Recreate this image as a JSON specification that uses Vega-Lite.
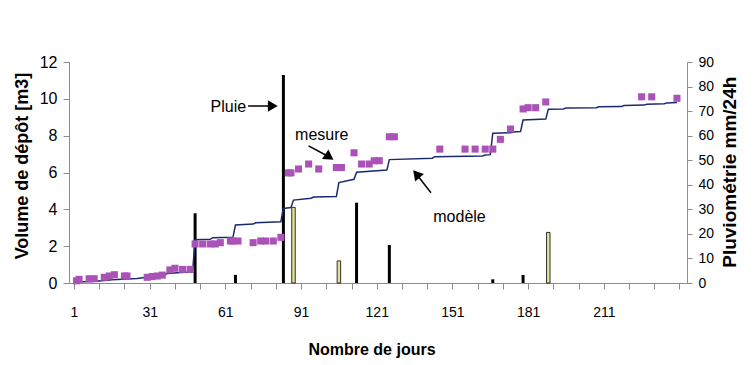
{
  "$schema": "https://vega.github.io/schema/vega-lite/v6.json",
  "width": 618,
  "height": 221,
  "autosize": {"type": "none"},
  "padding": {"left": 69, "top": 62, "right": 68, "bottom": 82},
  "background": "white",
  "config": {
    "view": {"stroke": null},
    "axis": {"grid": false, "labelOverlap": false, "tickCount": 100, "format": "d", "domainColor": "#8c8c8c", "tickColor": "#8c8c8c", "labelColor": "#000000", "titleColor": "#000000", "labelFont": "Liberation Sans", "titleFont": "Liberation Sans"}
  },
  "datasets": {
    "rain": [
      {"day": 49, "mm": 28.4, "s": "noir"},
      {"day": 65, "mm": 3.3, "s": "noir"},
      {"day": 84, "mm": 84.7, "s": "noir"},
      {"day": 113, "mm": 32.7, "s": "noir"},
      {"day": 126, "mm": 15.5, "s": "noir"},
      {"day": 167, "mm": 1.5, "s": "noir"},
      {"day": 179, "mm": 3.3, "s": "noir"},
      {"day": 88, "mm": 30.8, "s": "jaune"},
      {"day": 106, "mm": 9, "s": "jaune"},
      {"day": 189, "mm": 20.6, "s": "jaune"}
    ],
    "modele": [
      {"day": 1, "v": 0.05}, {"day": 8, "v": 0.08}, {"day": 12, "v": 0.12}, {"day": 16, "v": 0.17},
      {"day": 22, "v": 0.22}, {"day": 26, "v": 0.25}, {"day": 29, "v": 0.3}, {"day": 33, "v": 0.38},
      {"day": 37, "v": 0.45}, {"day": 38, "v": 0.52}, {"day": 42, "v": 0.56}, {"day": 45, "v": 0.58},
      {"day": 48, "v": 0.6}, {"day": 49, "v": 2.35}, {"day": 55, "v": 2.37}, {"day": 56, "v": 2.46},
      {"day": 64, "v": 2.48}, {"day": 65, "v": 3.15}, {"day": 72, "v": 3.2}, {"day": 73, "v": 3.27},
      {"day": 83, "v": 3.33}, {"day": 84, "v": 4.05}, {"day": 87, "v": 4.1}, {"day": 88, "v": 4.5},
      {"day": 95, "v": 4.6}, {"day": 96, "v": 4.67}, {"day": 105, "v": 4.7}, {"day": 106, "v": 5.45},
      {"day": 112, "v": 5.63}, {"day": 113, "v": 6.02}, {"day": 125, "v": 6.13}, {"day": 126, "v": 6.7},
      {"day": 143, "v": 6.78}, {"day": 144, "v": 6.86}, {"day": 163, "v": 6.9}, {"day": 164, "v": 6.95},
      {"day": 166, "v": 6.97}, {"day": 167, "v": 8.13}, {"day": 174, "v": 8.16}, {"day": 175, "v": 8.2},
      {"day": 178, "v": 8.22}, {"day": 179, "v": 8.85}, {"day": 188, "v": 8.9}, {"day": 189, "v": 9.43},
      {"day": 195, "v": 9.45}, {"day": 196, "v": 9.5}, {"day": 208, "v": 9.52}, {"day": 209, "v": 9.57},
      {"day": 218, "v": 9.58}, {"day": 219, "v": 9.64}, {"day": 227, "v": 9.66}, {"day": 228, "v": 9.71},
      {"day": 235, "v": 9.73}, {"day": 236, "v": 9.78}, {"day": 240, "v": 9.8}
    ],
    "mesure": [
      {"day": 2, "v": 0.12}, {"day": 3, "v": 0.2}, {"day": 7, "v": 0.23}, {"day": 9, "v": 0.23},
      {"day": 13, "v": 0.31}, {"day": 15, "v": 0.38}, {"day": 17, "v": 0.45}, {"day": 21, "v": 0.38},
      {"day": 22, "v": 0.38}, {"day": 30, "v": 0.31}, {"day": 32, "v": 0.35}, {"day": 34, "v": 0.38},
      {"day": 36, "v": 0.43}, {"day": 39, "v": 0.71}, {"day": 41, "v": 0.8}, {"day": 44, "v": 0.74},
      {"day": 47, "v": 0.74},
      {"day": 49, "v": 2.12}, {"day": 52, "v": 2.12}, {"day": 55, "v": 2.12}, {"day": 57, "v": 2.12},
      {"day": 59, "v": 2.19}, {"day": 63, "v": 2.28}, {"day": 64, "v": 2.28}, {"day": 66, "v": 2.28},
      {"day": 72, "v": 2.19}, {"day": 75, "v": 2.28}, {"day": 77, "v": 2.28}, {"day": 80, "v": 2.28},
      {"day": 83, "v": 2.48},
      {"day": 86, "v": 5.98}, {"day": 87, "v": 5.98}, {"day": 90, "v": 6.19}, {"day": 94, "v": 6.46},
      {"day": 98, "v": 6.19}, {"day": 105, "v": 6.27}, {"day": 107, "v": 6.27}, {"day": 112, "v": 7.07},
      {"day": 115, "v": 6.46}, {"day": 118, "v": 6.46}, {"day": 120, "v": 6.64}, {"day": 122, "v": 6.64},
      {"day": 126, "v": 7.94}, {"day": 128, "v": 7.94},
      {"day": 146, "v": 7.27}, {"day": 156, "v": 7.27}, {"day": 160, "v": 7.27}, {"day": 164, "v": 7.27},
      {"day": 167, "v": 7.27}, {"day": 170, "v": 7.8}, {"day": 174, "v": 8.36}, {"day": 179, "v": 9.45},
      {"day": 181, "v": 9.52}, {"day": 184, "v": 9.52}, {"day": 188, "v": 9.83},
      {"day": 226, "v": 10.11}, {"day": 230, "v": 10.11}, {"day": 240, "v": 10.03}
    ],
    "notes": [
      {"day": 62.2, "v": 9.55, "t": "Pluie"},
      {"day": 99.2, "v": 8.03, "t": "mesure"},
      {"day": 153.8, "v": 3.6, "t": "modèle"}
    ],
    "arrows": [
      {"name": "Pluie", "day": 70, "v": 9.61, "day2": 79.8, "v2": 9.61},
      {"name": "mesure", "day": 94, "v": 7.45, "day2": 102.2, "v2": 6.84},
      {"name": "modèle", "day": 142.5, "v": 4.9, "day2": 136.7, "v2": 5.92}
    ]
  },
  "layer": [
    {
      "data": {"name": "rain"},
      "encoding": {
        "x": {
          "field": "day", "type": "quantitative",
          "scale": {"domain": [1, 242], "nice": false, "zero": false},
          "axis": {
            "values": [1, 11, 21, 31, 41, 51, 61, 71, 81, 91, 101, 111, 121, 131, 141, 151, 161, 171, 181, 191, 201, 211, 221, 231, 241],
            "tickCount": 100, "format": "d",
            "labelExpr": "((datum.value - 1) % 30 == 0 && datum.value <= 211) ? datum.label : ''",
            "labelOverlap": false, "labelFlush": false,
            "labelFontSize": 14, "labelPadding": 16, "tickSize": 6,
            "title": "Nombre de jours",
            "titleFontSize": 16, "titleFontWeight": "bold",
            "titleX": 302.5, "titleY": 66, "titleBaseline": "middle", "titleAlign": "center"
          }
        },
        "y": {
          "field": "mm", "type": "quantitative",
          "scale": {"domain": [0, 90], "nice": false, "zero": true},
          "axis": {
            "orient": "right", "values": [0, 10, 20, 30, 40, 50, 60, 70, 80, 90],
            "tickCount": 100, "format": "d",
            "labelOverlap": false,
            "labelFontSize": 14, "labelPadding": 6, "tickSize": 5,
            "title": "Pluviométrie mm/24h", "titleFontSize": 19, "titleFontWeight": "bold",
            "titleAngle": 270, "titleX": 42.7, "titleY": 109.7, "titleBaseline": "middle", "titleAlign": "center"
          }
        }
      },
      "layer": [
        {"transform": [{"filter": "datum.s == 'noir'"}], "mark": {"type": "bar", "width": 3, "color": "#000000"}},
        {"transform": [{"filter": "datum.s == 'jaune'"}], "mark": {"type": "bar", "width": 3.5, "fill": "#E2E29A", "stroke": "#000000", "strokeWidth": 0.8}}
      ]
    },
    {
      "layer": [
        {
          "data": {"name": "modele"},
          "mark": {"type": "line", "color": "#1B2A6E", "strokeWidth": 1.5},
          "encoding": {
            "x": {"field": "day", "type": "quantitative"},
            "y": {
              "field": "v", "type": "quantitative",
              "scale": {"domain": [0, 12], "nice": false},
              "axis": {
                "orient": "left", "values": [0, 2, 4, 6, 8, 10, 12],
                "tickCount": 100, "format": "d",
                "labelOverlap": false,
                "labelFontSize": 16, "labelPadding": 6, "tickSize": 6,
                "title": "Volume de dépôt [m3]", "titleFontSize": 18, "titleFontWeight": "bold",
                "titleAngle": 270, "titleX": -46.5, "titleY": 103.5, "titleBaseline": "middle", "titleAlign": "center"
              }
            }
          }
        },
        {
          "data": {"name": "mesure"},
          "mark": {"type": "point", "shape": "square", "filled": true, "size": 50, "color": "#AA52B8", "opacity": 1},
          "encoding": {
            "x": {"field": "day", "type": "quantitative"},
            "y": {"field": "v", "type": "quantitative"}
          }
        },
        {
          "data": {"name": "notes"},
          "mark": {"type": "text", "font": "Liberation Sans", "fontSize": 16, "color": "#000000"},
          "encoding": {
            "x": {"field": "day", "type": "quantitative"},
            "y": {"field": "v", "type": "quantitative"},
            "text": {"field": "t"}
          }
        },
        {
          "data": {"name": "arrows"},
          "mark": {"type": "rule", "color": "#000000", "strokeWidth": 1.5},
          "encoding": {
            "x": {"field": "day", "type": "quantitative"},
            "y": {"field": "v", "type": "quantitative"},
            "x2": {"field": "day2"},
            "y2": {"field": "v2"}
          }
        },
        {
          "data": {"name": "arrows"},
          "transform": [{"filter": "datum.name == 'Pluie'"}],
          "mark": {"type": "point", "shape": "triangle-right", "filled": true, "size": 130, "color": "#000000", "opacity": 1, "angle": 0},
          "encoding": {
            "x": {"field": "day2", "type": "quantitative"},
            "y": {"field": "v2", "type": "quantitative"}
          }
        },
        {
          "data": {"name": "arrows"},
          "transform": [{"filter": "datum.name == 'mesure'"}],
          "mark": {"type": "point", "shape": "triangle-right", "filled": true, "size": 130, "color": "#000000", "opacity": 1, "angle": 34},
          "encoding": {
            "x": {"field": "day2", "type": "quantitative"},
            "y": {"field": "v2", "type": "quantitative"}
          }
        },
        {
          "data": {"name": "arrows"},
          "transform": [{"filter": "datum.name == 'modèle'"}],
          "mark": {"type": "point", "shape": "triangle-right", "filled": true, "size": 130, "color": "#000000", "opacity": 1, "angle": 230},
          "encoding": {
            "x": {"field": "day2", "type": "quantitative"},
            "y": {"field": "v2", "type": "quantitative"}
          }
        }
      ]
    }
  ],
  "resolve": {"scale": {"y": "independent"}}
}
